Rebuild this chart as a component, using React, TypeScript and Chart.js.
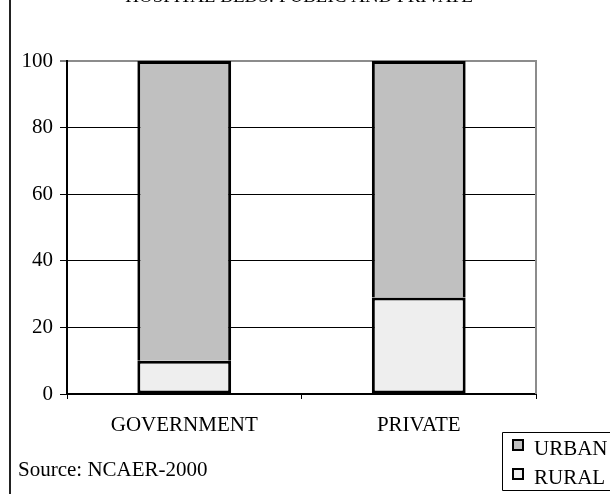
import React, { useEffect, useRef } from "react";
import { Chart, registerables } from "chart.js";

Chart.register(...registerables);

// Share of hospital beds (%) by location, for each sector
const categories = ["GOVERNMENT", "PRIVATE"];
const ruralShare = [10, 29];
const urbanShare = [90, 71];
const yMin = 0;
const yMax = 100;
const yStep = 20;
const chartTitle = "HOSPITAL BEDS: PUBLIC AND PRIVATE";
const sourceNote = "Source: NCAER-2000";

const SERIF = "'Liberation Serif', 'Times New Roman', Times, serif";
const URBAN_FILL = "#c0c0c0";
const RURAL_FILL = "#eeeeee";
const FRAME_GRAY = "#8c8c8c";
const TEXT_SIZE = 21;

// Frame, title, source note and the boxed legend drawn around the plot
const decorations = {
  id: "decorations",
  beforeDatasetsDraw(chart: any) {
    const { ctx, chartArea: a } = chart;
    ctx.save();
    ctx.strokeStyle = FRAME_GRAY;
    ctx.lineWidth = 2;
    ctx.beginPath();
    ctx.moveTo(a.right, a.top - 1);
    ctx.lineTo(a.right, a.bottom);
    ctx.stroke();
    ctx.restore();
  },
  afterDraw(chart: any) {
    const { ctx } = chart;
    ctx.save();

    // outer chart frame (left edge)
    ctx.strokeStyle = "#222";
    ctx.lineWidth = 2;
    ctx.beginPath();
    ctx.moveTo(10, 0);
    ctx.lineTo(10, chart.height);
    ctx.stroke();

    // title
    ctx.fillStyle = "#000";
    ctx.font = `19px ${SERIF}`;
    ctx.textAlign = "center";
    ctx.textBaseline = "alphabetic";
    ctx.fillText(chartTitle, 299, 2);

    // source note
    ctx.textAlign = "left";
    ctx.font = `${TEXT_SIZE}px ${SERIF}`;
    ctx.fillText(sourceNote, 18, 476);

    // legend box
    ctx.strokeStyle = "#000";
    ctx.lineWidth = 1;
    ctx.fillStyle = "#fff";
    ctx.beginPath();
    ctx.rect(502.5, 432.5, 120, 58);
    ctx.fill();
    ctx.stroke();

    const sets = chart.data.datasets.slice().reverse();
    sets.forEach((ds: any, i: number) => {
      const y = 440 + i * 29;
      ctx.fillStyle = ds.backgroundColor;
      ctx.fillRect(513, y, 10, 10);
      ctx.strokeStyle = "#000";
      ctx.lineWidth = 2;
      ctx.strokeRect(513, y, 10, 10);
      ctx.fillStyle = "#000";
      ctx.font = `${TEXT_SIZE}px ${SERIF}`;
      ctx.textBaseline = "alphabetic";
      ctx.fillText(ds.label, 534, y + 15);
    });

    ctx.restore();
  },
};

export default function App() {
  const canvasRef = useRef<HTMLCanvasElement | null>(null);

  useEffect(() => {
    const canvas = canvasRef.current;
    if (!canvas) return;

    const chart = new Chart(canvas, {
      type: "bar",
      data: {
        labels: categories,
        datasets: [
          {
            label: "RURAL",
            data: ruralShare,
            backgroundColor: RURAL_FILL,
            borderColor: "#000",
            borderWidth: 3,
            borderSkipped: false,
            barPercentage: 0.4,
            categoryPercentage: 1,
          },
          {
            label: "URBAN",
            data: urbanShare,
            backgroundColor: URBAN_FILL,
            borderColor: "#000",
            borderWidth: 3,
            borderSkipped: "bottom",
            barPercentage: 0.4,
            categoryPercentage: 1,
          },
        ],
      },
      options: {
        responsive: false,
        animation: false,
        devicePixelRatio: 1,
        layout: { padding: { top: 61, right: 74, left: 0, bottom: 0 } },
        plugins: {
          legend: { display: false },
          title: { display: false },
          tooltip: { enabled: false },
        },
        scales: {
          x: {
            stacked: true,
            offset: true,
            afterFit(scale: any) {
              scale.height = 100;
            },
            grid: {
              offset: true,
              drawOnChartArea: false,
              tickLength: 5,
              tickColor: "#000",
              tickWidth: 1,
            },
            border: { display: true, color: "#000", width: 2 },
            ticks: {
              color: "#000",
              font: { family: SERIF, size: TEXT_SIZE },
              padding: 14,
              maxRotation: 0,
            },
          },
          y: {
            stacked: true,
            min: yMin,
            max: yMax,
            afterFit(scale: any) {
              scale.width = 67;
            },
            grid: {
              color: (c: any) => (c.tick && c.tick.value === yMax ? FRAME_GRAY : "#000"),
              lineWidth: (c: any) => (c.tick && c.tick.value === yMax ? 2 : 1),
              tickLength: 7,
              tickColor: "#000",
              tickWidth: 1,
            },
            border: { display: true, color: "#000", width: 2 },
            ticks: {
              stepSize: yStep,
              color: "#000",
              font: { family: SERIF, size: TEXT_SIZE },
              padding: 7,
            },
          },
        },
      },
      plugins: [decorations],
    });

    return () => chart.destroy();
  }, []);

  return (
    <div style={{ position: "fixed", left: 0, top: 0, width: 610, height: 494, background: "#fff" }}>
      <canvas ref={canvasRef} width={610} height={494} style={{ display: "block" }} />
    </div>
  );
}
